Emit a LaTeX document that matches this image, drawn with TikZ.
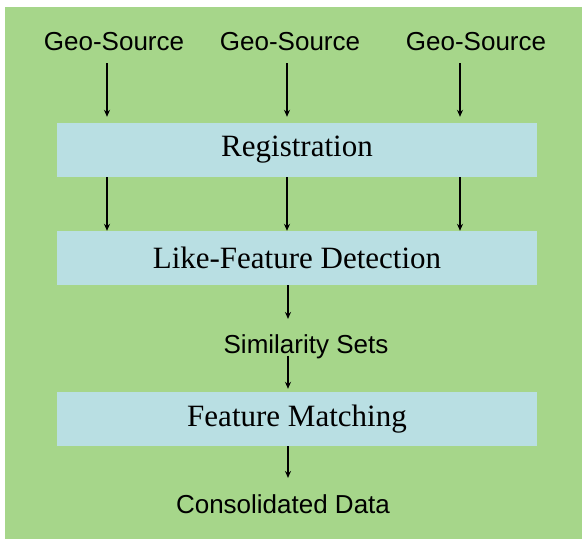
\documentclass[tikz,border=0pt]{standalone}
\usepackage{fontspec}
\setmainfont{Liberation Serif}
\setsansfont{Liberation Sans}
\usetikzlibrary{positioning, arrows.meta, calc}
\usepackage{xcolor}
\definecolor{paneGreen}{HTML}{A6D68A}
\definecolor{stageBlue}{HTML}{B9DFE3}

\begin{document}
\begin{tikzpicture}[
  x=1pt, y=-1pt,
  source/.style={
    font=\sffamily\fontsize{26}{30}\selectfont,
    inner xsep=0pt, inner ysep=13pt, anchor=base
  },
  stage/.style={
    rectangle, fill=stageBlue, inner sep=0pt,
    minimum width=480pt, minimum height=54pt,
    font=\fontsize{31}{36}\selectfont
  },
  result/.style={
    font=\sffamily\fontsize{26}{30}\selectfont,
    inner sep=0pt, anchor=base
  },
  flow/.style={-{Stealth[length=7pt, width=6pt]}, line width=1.3pt},
  >=Stealth
]

% ---- background panel ----
\useasboundingbox (0,0) rectangle (582,539);
\fill[white] (0,0) rectangle (582,539);
\fill[paneGreen] (5,7) rectangle (582,539);

% ---- sources (top row) ----
\node[source] (src1) at (114,50) {Geo-Source};
\node[source] (src2) at (290,50) {Geo-Source};
\node[source] (src3) at (476,50) {Geo-Source};

% ---- processing stages ----
\node[stage] (reg) at (297,150) {Registration};
\node[stage] (det) at (297,258) {Like-Feature Detection};
\node[stage] (match) at (297,419) {Feature Matching};

% ---- intermediate and final data ----
\node[result] (sim) at (306,353) {Similarity Sets};
\node[result] (data) at (283,513) {Consolidated Data};

% ---- column positions for the arrows ----
\coordinate (col1) at ([xshift=-7pt]src1.south);
\coordinate (col2) at ([xshift=-3pt]src2.south);
\coordinate (col3) at ([xshift=-16pt]src3.south);
\coordinate (colm) at (288,0);

% ---- Arrows: sources into registration ----
\foreach \c in {col1, col2, col3}
  \draw[flow, shorten >=6pt] (\c) -- (\c |- reg.north);

% ---- Arrows: registration into detection ----
\foreach \c in {col1, col2, col3}
  \draw[flow] (\c |- reg.south) -- (\c |- det.north);

% ---- Arrows: down the middle ----
\draw[flow, shorten >=15pt] (colm |- det.south) -- (colm |- sim.north);
\draw[flow, shorten <=-3pt, shorten >=3pt] (colm |- sim.south) -- (colm |- match.north);
\draw[flow, shorten >=16pt] (match.south -| colm) -- (colm |- data.north);

\end{tikzpicture}
\end{document}
